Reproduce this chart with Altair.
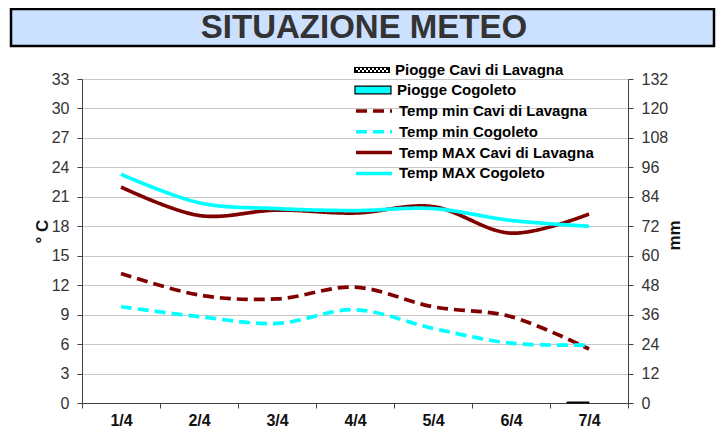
import altair as alt
import pandas as pd

# ---------------- data ----------------
dates = ["1/4", "2/4", "3/4", "4/4", "5/4", "6/4", "7/4"]
rain_cavi = [0, 0, 0, 0, 0, 0, 0.4]
rain_cogoleto = [0, 0, 0, 0, 0, 0, 0]
tmin_cavi = [13.2, 11.0, 10.6, 11.8, 9.8, 8.8, 5.5]
tmin_cogoleto = [9.8, 8.8, 8.1, 9.5, 7.6, 6.1, 5.9]
tmax_cavi = [22.0, 19.1, 19.65, 19.35, 20.0, 17.3, 19.25]
tmax_cogoleto = [23.3, 20.4, 19.8, 19.6, 19.8, 18.6, 18.0]

rain_names = ["Piogge Cavi di Lavagna", "Piogge Cogoleto"]
temp_names = ["Temp min Cavi di Lavagna", "Temp min Cogoleto",
              "Temp MAX Cavi di Lavagna", "Temp MAX Cogoleto"]
temp_colors = ["#800000", "#00FFFF", "#800000", "#00FFFF"]
temp_dashes = [[11, 6], [11, 6], [1, 0], [1, 0]]
temp_ticks = list(range(0, 34, 3))
rain_ticks = list(range(0, 133, 12))
title_text = "SITUAZIONE METEO"

# ---------------- tables ----------------
df_rain_cavi = pd.DataFrame({"data": dates, "mm": rain_cavi, "serie": rain_names[0]})
df_rain_cog = pd.DataFrame({"data": dates, "mm": rain_cogoleto, "serie": rain_names[1]})
temp_series = [tmin_cavi, tmin_cogoleto, tmax_cavi, tmax_cogoleto]
rows = []
for i, (name, vals) in enumerate(zip(temp_names, temp_series)):
    for d, v in zip(dates, vals):
        rows.append({"data": d, "temp": v, "serie": name, "ordine": i})
df_temp = pd.DataFrame(rows)

FONT = "Liberation Sans"
AX = "#404040"

x_enc = alt.X(
    "data:N", sort=dates,
    scale=alt.Scale(domain=dates, paddingInner=0, paddingOuter=0),
    axis=alt.Axis(title=None, labelAngle=0, labelFont=FONT, labelFontSize=16,
                  labelFontWeight="bold", labelColor="#111111", tickBand="extent",
                  tickSize=5, labelPadding=4, domainColor=AX, tickColor=AX, grid=False),
)
xoff = alt.XOffset("serie:N", scale=alt.Scale(domain=rain_names, paddingOuter=0.77, paddingInner=0))

y_rain = alt.Y(
    "mm:Q",
    scale=alt.Scale(domain=[0, 132], nice=False, zero=True),
    axis=alt.Axis(orient="right", values=rain_ticks, title="mm", titleAngle=270,
                  titleFont=FONT, titleFontSize=17, titleFontWeight="bold", titleColor="#111111",
                  titleX=55, titleY=156, labelFont=FONT, labelFontSize=16, labelColor="#333333",
                  labelPadding=8, tickSize=5, domainColor=AX, tickColor=AX, grid=False),
)

# checkered legend symbol: black frame with white holes
u = 1 / 18.0
parts = ["M-1,%.4fH1V%.4fH-1Z" % (-3 * u, 3 * u)]
for k in range(8):
    x0 = (-16 + 4 * k) * u
    parts.append("M%.4f,%.4fV%.4fH%.4fV%.4fZ" % (x0, -2 * u, 0, x0 + 2 * u, -2 * u))
    x1 = (-14 + 4 * k) * u
    parts.append("M%.4f,%.4fV%.4fH%.4fV%.4fZ" % (x1, 0, 2 * u, x1 + 2 * u, 0))
checker = "".join(parts)

leg_common = dict(orient="none", title=None, labelFont=FONT, labelFontSize=15,
                  labelFontWeight="bold", labelColor="#000000", padding=0, labelLimit=0,
                  labelOffset=5, clipHeight=16, rowPadding=4.8, legendX=272)

stroke_if_rain = alt.condition("datum.mm > 0", alt.value(1), alt.value(0))

bar_cavi = alt.Chart(df_rain_cavi).mark_bar(stroke="black").encode(
    x=x_enc, xOffset=xoff, y=y_rain, strokeWidth=stroke_if_rain,
    fill=alt.Fill("serie:N", scale=alt.Scale(domain=[rain_names[0]], range=["#000000"]),
                  legend=alt.Legend(symbolType=checker, symbolSize=1296, symbolStrokeWidth=0,
                                    legendY=-17, **leg_common)),
)
bar_cog = alt.Chart(df_rain_cog).mark_bar(stroke="black").encode(
    x=x_enc, xOffset=xoff, y=y_rain, strokeWidth=stroke_if_rain,
    color=alt.Color("serie:N", scale=alt.Scale(domain=[rain_names[1]], range=["#00FFFF"]),
                    legend=alt.Legend(symbolType="M-1,-0.22H1V0.22H-1Z", symbolSize=1296,
                                      symbolStrokeColor="black", symbolStrokeWidth=1.2,
                                      legendY=3, **leg_common)),
)
bars = alt.layer(bar_cavi, bar_cog)

line_legend = alt.Legend(symbolType="stroke", symbolSize=1296, symbolStrokeWidth=3.5,
                         legendY=24, **leg_common)
lines = alt.Chart(df_temp).mark_line(interpolate="cardinal", strokeWidth=3.7).encode(
    x=x_enc,
    y=alt.Y("temp:Q", scale=alt.Scale(domain=[0, 33], nice=False),
            axis=alt.Axis(orient="left", values=temp_ticks, title="° C", titleAngle=270,
                          titleFont=FONT, titleFontSize=17, titleFontWeight="bold",
                          titleColor="#111111", titleX=-31, titleY=152,
                          labelFont=FONT, labelFontSize=16, labelColor="#333333",
                          labelPadding=8, tickSize=5, domainColor=AX, tickColor=AX,
                          grid=True, gridColor="#c8c8c8", gridWidth=1)),
    stroke=alt.Stroke("serie:N", scale=alt.Scale(domain=temp_names, range=temp_colors),
                      legend=line_legend),
    strokeDash=alt.StrokeDash("serie:N", scale=alt.Scale(domain=temp_names, range=temp_dashes),
                              legend=line_legend),
    order=alt.Order("ordine:Q"),
)

one = alt.Data(values=[{}])
title_box = alt.Chart(one).mark_rect(fill="#cce0ff", stroke="black", strokeWidth=2.5).encode(
    x=alt.value(-71), x2=alt.value(632), y=alt.value(-70), y2=alt.value(-33))
title_lbl = alt.Chart(one).mark_text(font=FONT, fontSize=33, fontWeight="bold", color="#333333",
                                     align="center", baseline="middle").encode(
    x=alt.value(282), y=alt.value(-51), text=alt.value(title_text))

chart = alt.layer(title_box, title_lbl, bars, lines).resolve_scale(y="independent").properties(
    width=546, height=324,
    padding={"left": 74, "top": 71, "right": 88, "bottom": 30},
    autosize=alt.AutoSizeParams(type="none"),
).configure_view(stroke=None)

chart.save("out.html", embed_options={"renderer": "svg", "actions": False})
